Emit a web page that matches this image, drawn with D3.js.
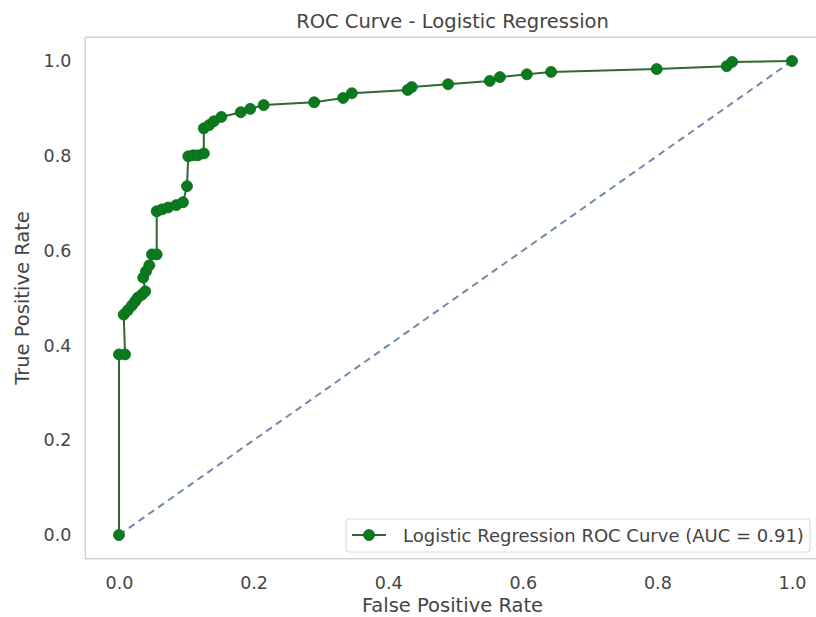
<!DOCTYPE html>
<html>
<head>
<meta charset="utf-8">
<script src="https://cdn.jsdelivr.net/npm/d3@7"></script>
<style>
  html, body { margin: 0; padding: 0; background: #fff; }
  svg { display: block; }
  text { font-family: "DejaVu Sans", sans-serif; fill: #444; }
</style>
</head>
<body>
<svg id="chart" width="816" height="617"></svg>
<script>
// ROC curve points of the logistic regression model
const fpr = [0.000, 0.000, 0.009, 0.007, 0.013, 0.019, 0.024, 0.028, 0.034, 0.039,
             0.036, 0.040, 0.045, 0.049, 0.056, 0.056, 0.064, 0.073, 0.085, 0.095,
             0.101, 0.103, 0.110, 0.117, 0.126, 0.126, 0.134, 0.141, 0.152, 0.181,
             0.195, 0.215, 0.290, 0.333, 0.346, 0.429, 0.435, 0.489, 0.551, 0.566,
             0.606, 0.642, 0.799, 0.903, 0.911, 1.000];
const tpr = [0.000, 0.381, 0.381, 0.465, 0.474, 0.484, 0.493, 0.501, 0.507, 0.514,
             0.543, 0.556, 0.569, 0.592, 0.592, 0.683, 0.687, 0.691, 0.696, 0.702,
             0.736, 0.799, 0.801, 0.801, 0.805, 0.858, 0.865, 0.873, 0.882, 0.892,
             0.899, 0.907, 0.913, 0.922, 0.932, 0.939, 0.945, 0.951, 0.958, 0.966,
             0.972, 0.977, 0.983, 0.989, 0.998, 1.000];
const chanceLine = [[0, 0], [1, 1]];
const tickValues = [0.0, 0.2, 0.4, 0.6, 0.8, 1.0];
const aucValue = 0.91;

const svg = d3.select("#chart");

const x = d3.scaleLinear().domain([0, 1]).range([119, 792]);
const y = d3.scaleLinear().domain([0, 1]).range([535, 61]);

const frameLeft = x(-0.05), frameRight = x(1.05), frameTop = y(1.05), frameBottom = y(-0.05);

// plot frame
svg.append("rect")
  .attr("x", frameLeft).attr("y", frameTop)
  .attr("width", frameRight - frameLeft).attr("height", frameBottom - frameTop)
  .attr("fill", "#fff").attr("stroke", "#d2d2d2").attr("stroke-width", 1.5);

// axes (labels only, no tick marks)
const xAxis = svg.append("g")
  .attr("transform", `translate(0,${frameBottom})`)
  .call(d3.axisBottom(x).tickValues(tickValues).tickFormat(d3.format(".1f")).tickSize(0).tickPadding(18));
const yAxis = svg.append("g")
  .attr("transform", `translate(${frameLeft},0)`)
  .call(d3.axisLeft(y).tickValues(tickValues).tickFormat(d3.format(".1f")).tickSize(0).tickPadding(14));
[xAxis, yAxis].forEach(g => {
  g.select(".domain").remove();
  g.selectAll("text").style("font-size", "17.5px").attr("fill", "#444")
    .style("font-family", "DejaVu Sans, sans-serif");
});

// chance diagonal
svg.append("path")
  .datum(chanceLine)
  .attr("d", d3.line().x(d => x(d[0])).y(d => y(d[1])))
  .attr("fill", "none")
  .attr("stroke", "#7189a8")
  .attr("stroke-width", 2)
  .attr("stroke-dasharray", "7,5");

// ROC curve
const pts = fpr.map((f, i) => [f, tpr[i]]);
svg.append("path")
  .datum(pts)
  .attr("d", d3.line().x(d => x(d[0])).y(d => y(d[1])))
  .attr("fill", "none")
  .attr("stroke", "#2f6a2f")
  .attr("stroke-width", 2);

svg.append("g").selectAll("circle")
  .data(pts)
  .join("circle")
  .attr("cx", d => x(d[0]))
  .attr("cy", d => y(d[1]))
  .attr("r", 5.5)
  .attr("fill", "#0b7a1e")
  .attr("stroke", "#0a6a1a")
  .attr("stroke-width", 0.8);

// title and axis labels
svg.append("text")
  .attr("x", (frameLeft + frameRight) / 2 - 3).attr("y", 28)
  .attr("text-anchor", "middle")
  .style("font-size", "19.5px")
  .text("ROC Curve - Logistic Regression");

svg.append("text")
  .attr("x", (frameLeft + frameRight) / 2 - 3).attr("y", 612)
  .attr("text-anchor", "middle")
  .style("font-size", "19.5px")
  .text("False Positive Rate");

svg.append("text")
  .attr("transform", `translate(29,${(frameTop + frameBottom) / 2}) rotate(-90)`)
  .attr("text-anchor", "middle")
  .style("font-size", "19.5px")
  .text("True Positive Rate");

// legend
const legend = svg.append("g").attr("transform", "translate(346,519)");
legend.append("rect")
  .attr("width", 464).attr("height", 33).attr("rx", 3)
  .attr("fill", "#fff").attr("stroke", "#dcdcdc").attr("stroke-width", 1.2);
legend.append("line")
  .attr("x1", 6).attr("x2", 40).attr("y1", 16).attr("y2", 16)
  .attr("stroke", "#2f6a2f").attr("stroke-width", 2);
legend.append("circle")
  .attr("cx", 23).attr("cy", 16).attr("r", 5.5)
  .attr("fill", "#0b7a1e").attr("stroke", "#0a6a1a").attr("stroke-width", 0.8);
legend.append("text")
  .attr("x", 57).attr("y", 22.5)
  .style("font-size", "18px")
  .text(`Logistic Regression ROC Curve (AUC = ${aucValue.toFixed(2)})`);
</script>
</body>
</html>
